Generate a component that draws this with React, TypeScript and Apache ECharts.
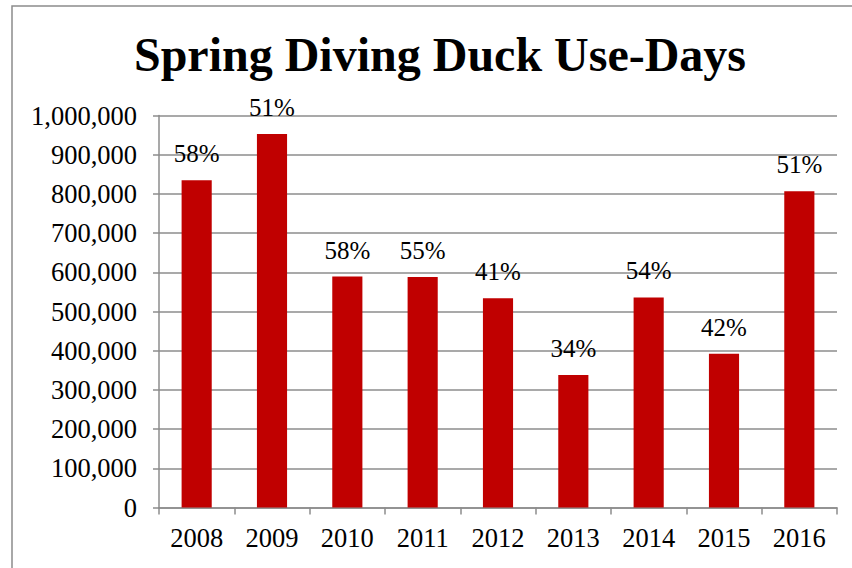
import React, { useEffect, useRef } from "react";
import * as echarts from "echarts";

// Spring diving duck use-days by year, with the share labelled above each bar
const years = ["2008", "2009", "2010", "2011", "2012", "2013", "2014", "2015", "2016"];
const useDays = [835000, 953000, 589000, 588000, 534000, 338000, 536000, 392000, 807000];
const shareLabels = ["58%", "51%", "58%", "55%", "41%", "34%", "54%", "42%", "51%"];

const SERIF = '"Liberation Serif", "Times New Roman", serif';

export default function App() {
  const ref = useRef<HTMLDivElement>(null);

  useEffect(() => {
    if (!ref.current) return;
    const chart = echarts.init(ref.current, undefined, { renderer: "svg" });
    chart.setOption({
      animation: false,
      backgroundColor: "#ffffff",
      textStyle: { fontFamily: SERIF },
      graphic: [
        {
          type: "rect",
          shape: { x: 12, y: 6, width: 860, height: 580 },
          style: { fill: "none", stroke: "#8c8c8c", lineWidth: 1.5 },
          silent: true,
        },
      ],
      title: {
        text: "Spring Diving Duck Use-Days",
        left: 435,
        textAlign: "center",
        top: 25,
        textStyle: {
          fontFamily: SERIF,
          fontWeight: "bold",
          fontSize: 48,
          color: "#000000",
        },
      },
      grid: { left: 159, right: 15, top: 115.5, bottom: 60.5, containLabel: false },
      xAxis: {
        type: "category",
        data: years,
        axisLine: { show: true, lineStyle: { color: "#8c8c8c", width: 1.5 } },
        axisTick: { show: true, length: 7, lineStyle: { color: "#8c8c8c", width: 1.5 } },
        axisLabel: { color: "#000000", fontFamily: SERIF, fontSize: 26.5, margin: 17 },
      },
      yAxis: {
        type: "value",
        min: 0,
        max: 1000000,
        interval: 100000,
        axisLine: { show: true, lineStyle: { color: "#8c8c8c", width: 1.5 } },
        axisTick: { show: true, length: 6, lineStyle: { color: "#8c8c8c", width: 1.5 } },
        splitLine: { show: true, lineStyle: { color: "#8c8c8c", width: 1.5 } },
        axisLabel: {
          color: "#000000",
          fontFamily: SERIF,
          fontSize: 26.5,
          margin: 22,
          formatter: (v: number) => v.toLocaleString("en-US"),
        },
      },
      series: [
        {
          type: "bar",
          data: useDays,
          barWidth: "40%",
          itemStyle: { color: "#c00000" },
          label: {
            show: true,
            position: "top",
            distance: 14,
            color: "#000000",
            fontFamily: SERIF,
            fontSize: 25,
            formatter: (p: any) => shareLabels[p.dataIndex],
          },
        },
      ],
    });
    return () => chart.dispose();
  }, []);

  return (
    <div
      ref={ref}
      style={{ position: "absolute", left: 0, top: 0, width: 852, height: 568 }}
    />
  );
}
